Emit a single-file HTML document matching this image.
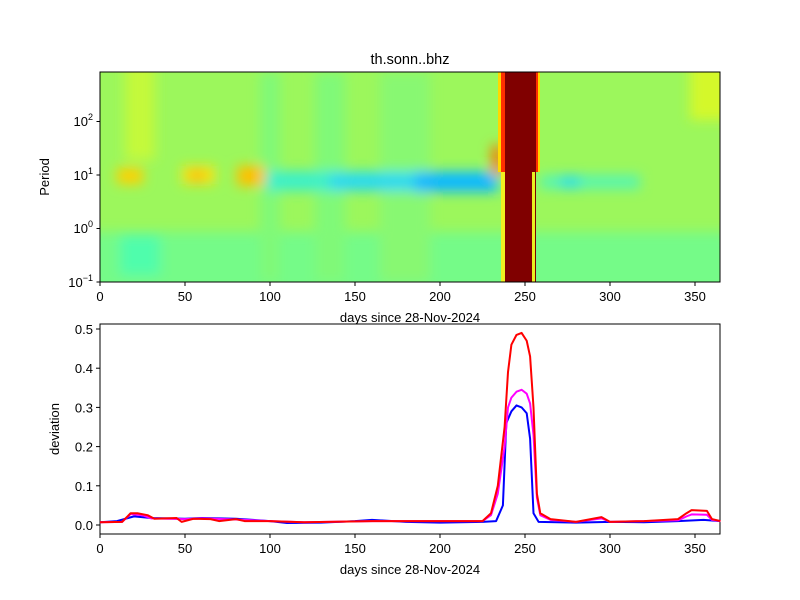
<!DOCTYPE html>
<html><head><style>body{margin:0;background:#fff}svg{display:block;font-family:"Liberation Sans","DejaVu Sans",sans-serif}</style></head><body>
<svg width="800" height="600" viewBox="0 0 800 600" xmlns="http://www.w3.org/2000/svg">
<defs>
<filter id="b1" filterUnits="userSpaceOnUse" x="60" y="30" width="700" height="300"><feGaussianBlur stdDeviation="6"/></filter>
<clipPath id="c1"><rect x="100" y="72" width="620" height="210"/></clipPath>
</defs>
<text x="410" y="64" font-size="14.5" text-anchor="middle">th.sonn..bhz</text>
<g clip-path="url(#c1)">
<rect x="100" y="72" width="620" height="210" fill="#9cf75c"/>
<g filter="url(#b1)">
<rect x="90" y="232" width="640" height="60" fill="#74fb88"/>
<rect x="120" y="235" width="40" height="40" fill="#4ffdac"/>
<rect x="125" y="60" width="30" height="100" fill="#c4f93a"/>
<rect x="690" y="60" width="40" height="60" fill="#d4f82c"/>
<rect x="260" y="72" width="20" height="210" fill="#80f978"/>
<rect x="315" y="72" width="30" height="210" fill="#80f978"/>
<rect x="380" y="72" width="50" height="210" fill="#88f872"/>
<rect x="117" y="168" width="26" height="16" fill="#ffd000"/>
<rect x="182" y="166" width="33" height="18" fill="#f8e214"/>
<rect x="192" y="170" width="10" height="12" fill="#ffb400"/>
<rect x="237" y="166" width="28" height="20" fill="#ffc000"/>
<rect x="265" y="171" width="235" height="20" fill="#3ef0c8"/>
<rect x="330" y="174" width="160" height="16" fill="#2ad8f0"/>
<rect x="415" y="172" width="82" height="20" fill="#10b8ff"/>
<rect x="540" y="175" width="100" height="14" fill="#56f6b0"/>
<rect x="560" y="176" width="20" height="12" fill="#2ce0e8"/>
<rect x="492" y="145" width="10" height="30" fill="#ff7000"/>
</g>
<rect x="498" y="72" width="4" height="100" fill="#ffd800"/>
<rect x="501" y="72" width="4" height="100" fill="#ff3000"/>
<rect x="501" y="172" width="4" height="110" fill="#f0f020"/>
<rect x="536" y="72" width="2" height="100" fill="#ff3000"/>
<rect x="538" y="72" width="2" height="100" fill="#ffd800"/>
<rect x="505" y="72" width="31" height="210" fill="#800000"/>
<rect x="532" y="172" width="3" height="110" fill="#e8f020"/>
</g>
<rect x="100" y="72" width="620" height="210" fill="none" stroke="#000" stroke-width="1"/>
<g stroke="#000">
<line x1="96.5" x2="100" y1="282" y2="282"/><line x1="96.5" x2="100" y1="228.5" y2="228.5"/><line x1="96.5" x2="100" y1="175" y2="175"/><line x1="96.5" x2="100" y1="121.5" y2="121.5"/>
</g>
<g font-size="13" text-anchor="end">
<text x="93" y="287">10<tspan dy="-6" font-size="9">−1</tspan></text>
<text x="93" y="233">10<tspan dy="-6" font-size="9">0</tspan></text>
<text x="93" y="180">10<tspan dy="-6" font-size="9">1</tspan></text>
<text x="93" y="126">10<tspan dy="-6" font-size="9">2</tspan></text>
</g>
<text transform="translate(49,177) rotate(-90)" font-size="13" text-anchor="middle">Period</text>
<g stroke="#000"><line x1="100" x2="100" y1="282" y2="286"/><line x1="185" x2="185" y1="282" y2="286"/><line x1="270" x2="270" y1="282" y2="286"/><line x1="355" x2="355" y1="282" y2="286"/><line x1="440" x2="440" y1="282" y2="286"/><line x1="525" x2="525" y1="282" y2="286"/><line x1="610" x2="610" y1="282" y2="286"/><line x1="695" x2="695" y1="282" y2="286"/></g>
<g font-size="13" text-anchor="middle"><text x="100" y="301">0</text><text x="185" y="301">50</text><text x="270" y="301">100</text><text x="355" y="301">150</text><text x="440" y="301">200</text><text x="525" y="301">250</text><text x="610" y="301">300</text><text x="695" y="301">350</text>
<text x="410" y="322">days since 28-Nov-2024</text></g>

<rect x="100" y="324" width="620" height="210" fill="none" stroke="#000"/>
<g stroke="#000"><line x1="100" x2="100" y1="534" y2="538"/><line x1="185" x2="185" y1="534" y2="538"/><line x1="270" x2="270" y1="534" y2="538"/><line x1="355" x2="355" y1="534" y2="538"/><line x1="440" x2="440" y1="534" y2="538"/><line x1="525" x2="525" y1="534" y2="538"/><line x1="610" x2="610" y1="534" y2="538"/><line x1="695" x2="695" y1="534" y2="538"/>
<line x1="96" x2="100" y1="525" y2="525"/><line x1="96" x2="100" y1="485.8" y2="485.8"/><line x1="96" x2="100" y1="446.6" y2="446.6"/><line x1="96" x2="100" y1="407.4" y2="407.4"/><line x1="96" x2="100" y1="368.2" y2="368.2"/><line x1="96" x2="100" y1="329" y2="329"/></g>
<g font-size="13" text-anchor="middle"><text x="100" y="553">0</text><text x="185" y="553">50</text><text x="270" y="553">100</text><text x="355" y="553">150</text><text x="440" y="553">200</text><text x="525" y="553">250</text><text x="610" y="553">300</text><text x="695" y="553">350</text>
<text x="410" y="574">days since 28-Nov-2024</text></g>
<g font-size="13" text-anchor="end"><text x="93" y="530">0.0</text><text x="93" y="491">0.1</text><text x="93" y="451.5">0.2</text><text x="93" y="412.5">0.3</text><text x="93" y="373">0.4</text><text x="93" y="334">0.5</text></g>
<text transform="translate(59,429) rotate(-90)" font-size="13" text-anchor="middle">deviation</text>
<g transform="translate(100,525) scale(1.7,-392)" fill="none" stroke-width="2" stroke-linejoin="round">
<polyline vector-effect="non-scaling-stroke" stroke="#0000ff" points="0,0.007 10,0.01 20,0.022 30,0.018 50,0.016 60,0.018 80,0.016 100,0.01 110,0.005 130,0.006 150,0.01 160,0.013 180,0.008 200,0.006 225,0.008 233,0.01 237,0.05 239,0.26 242,0.29 245,0.305 248,0.3 251,0.285 253,0.22 255,0.03 258,0.008 280,0.006 300,0.008 320,0.007 340,0.01 355,0.013 365,0.01"/>
<polyline vector-effect="non-scaling-stroke" stroke="#ff00ff" points="0,0.007 13,0.008 18,0.028 25,0.025 30,0.017 50,0.015 60,0.017 80,0.014 100,0.01 120,0.007 160,0.01 200,0.01 225,0.01 230,0.025 234,0.08 238,0.2 240,0.3 242,0.325 245,0.34 248,0.345 251,0.335 253,0.31 255,0.23 257,0.07 259,0.025 265,0.013 280,0.008 295,0.017 300,0.008 320,0.01 340,0.012 345,0.022 348,0.027 357,0.026 360,0.013 365,0.01"/>
<polyline vector-effect="non-scaling-stroke" stroke="#ff0000" points="0,0.007 13,0.008 18,0.03 22,0.03 28,0.025 32,0.016 45,0.018 48,0.008 55,0.016 65,0.015 70,0.01 80,0.015 85,0.01 100,0.01 120,0.007 160,0.01 200,0.01 225,0.01 230,0.03 234,0.1 238,0.25 240,0.39 242,0.46 245,0.485 248,0.49 251,0.47 253,0.43 255,0.3 257,0.08 259,0.03 265,0.015 280,0.008 295,0.02 300,0.008 320,0.01 340,0.015 345,0.03 348,0.038 357,0.036 360,0.015 365,0.01"/>
</g>
</svg>
</body></html>
